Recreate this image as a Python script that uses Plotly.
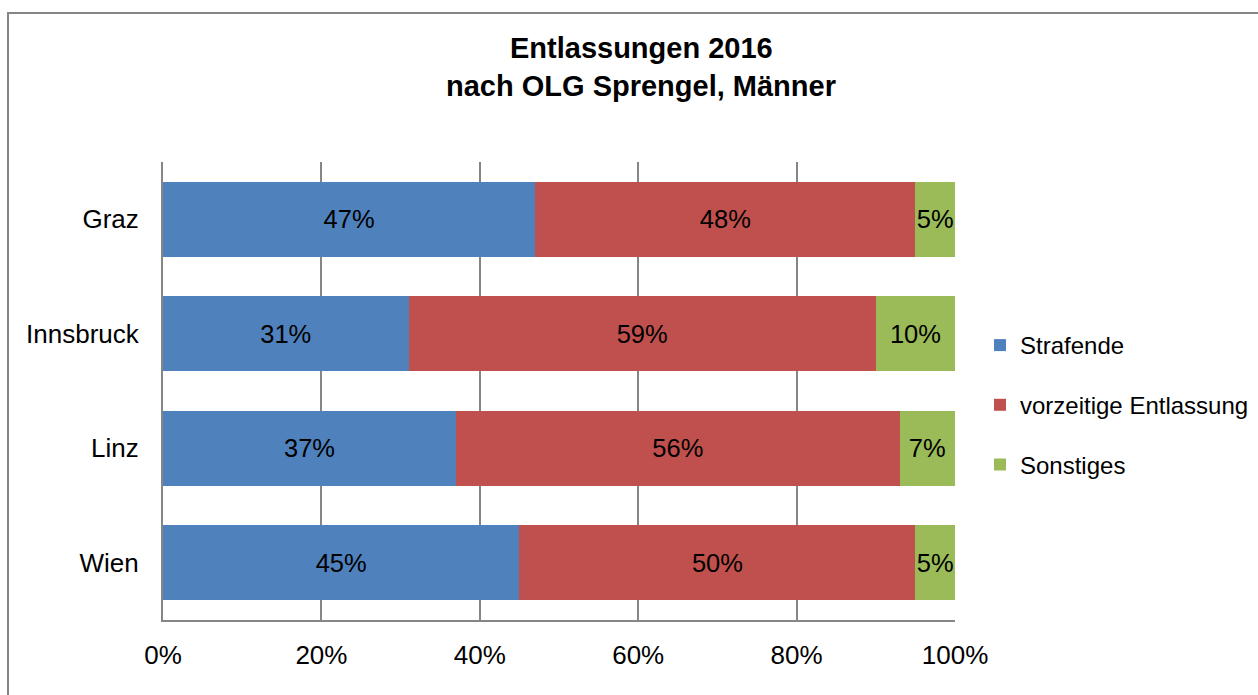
import plotly.graph_objects as go

# Release shares per OLG district (percent of all releases, men)
districts = ["Graz", "Innsbruck", "Linz", "Wien"]
strafende = [47, 31, 37, 45]
vorzeitig = [48, 59, 56, 50]
sonstiges = [5, 10, 7, 5]
x_ticks = [0, 20, 40, 60, 80, 100]
x_tick_labels = ["0%", "20%", "40%", "60%", "80%", "100%"]

W, H = 1258, 695
L, R, T, B = 163, 303, 162, 75
plot_w = W - L - R
plot_h = H - T - B

FONT = "Liberation Sans, Arial, sans-serif"
GRID = "#868686"

series = [
    ("Strafende", strafende, "#4F81BD"),
    ("vorzeitige Entlassung", vorzeitig, "#C0504D"),
    ("Sonstiges", sonstiges, "#9BBB59"),
]

fig = go.Figure()
for name, vals, color in series:
    fig.add_trace(go.Bar(
        y=districts,
        x=vals,
        name=name,
        orientation="h",
        marker=dict(color=color, line=dict(width=0)),
        text=[f"{v}%" for v in vals],
        textposition="inside",
        insidetextanchor="middle",
        textangle=0,
        constraintext="none",
        textfont=dict(family=FONT, size=25.5, color="black"),
        legendgroup=name,
        hoverinfo="skip",
    ))

# chart title, two lines (positions given in page pixels, converted to plot paper coords)
for txt, ypx in [("Entlassungen 2016", 48), ("nach OLG Sprengel, Männer", 86)]:
    fig.add_annotation(
        x=(641 - L) / plot_w, y=(H - B - ypx) / plot_h,
        xref="paper", yref="paper",
        text=f"<b>{txt}</b>", showarrow=False,
        font=dict(family=FONT, size=29, color="black"),
        xanchor="center", yanchor="middle",
    )

# outer chart frame
fig.add_shape(
    type="rect", xref="paper", yref="paper",
    x0=(8 - L) / plot_w, x1=(W + 20 - L) / plot_w,
    y0=(H - B - (H + 20)) / plot_h, y1=(H - B - 13) / plot_h,
    line=dict(color=GRID, width=2), fillcolor="rgba(0,0,0,0)", layer="below",
)

fig.update_layout(
    width=W, height=H,
    margin=dict(l=L, r=R, t=T, b=B, pad=0, autoexpand=False),
    barmode="stack",
    bargap=0.345,
    plot_bgcolor="white",
    paper_bgcolor="white",
    font=dict(family=FONT, size=26, color="black"),
    showlegend=True,
    legend=dict(
        xref="container", yref="container",
        x=980 / W, xanchor="left",
        y=1 - 405 / H, yanchor="middle",
        traceorder="grouped",
        tracegroupgap=25.5,
        itemwidth=30,
        font=dict(family=FONT, size=24, color="black"),
        bgcolor="rgba(0,0,0,0)",
        borderwidth=0,
    ),
    xaxis=dict(
        range=[0, 100],
        tickvals=x_ticks,
        ticktext=x_tick_labels,
        showgrid=True,
        gridcolor=GRID,
        gridwidth=2,
        showline=True,
        linecolor=GRID,
        linewidth=2,
        zeroline=False,
        ticks="",
        ticklabelstandoff=11,
        tickfont=dict(family=FONT, size=26, color="black"),
        fixedrange=True,
    ),
    yaxis=dict(
        categoryorder="array",
        categoryarray=districts,
        autorange="reversed",
        showgrid=False,
        showline=True,
        linecolor=GRID,
        linewidth=2,
        ticks="",
        ticklabelstandoff=17,
        tickfont=dict(family=FONT, size=26, color="black"),
        fixedrange=True,
    ),
)

fig.write_html("out.html", config={"displayModeBar": False})
